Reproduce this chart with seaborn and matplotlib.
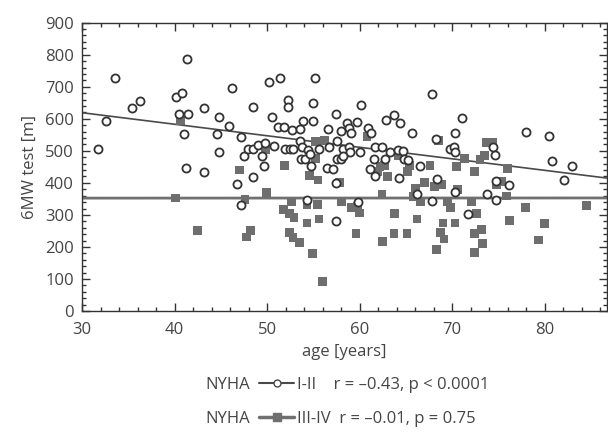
import numpy as np
import pandas as pd
import seaborn as sns
import matplotlib.pyplot as plt
import matplotlib.ticker
from matplotlib.lines import Line2D

# NYHA I-II (open circles)
age_12 = [31.7, 32.6, 33.6, 35.4, 36.3, 40.1, 40.8, 41.3, 40.5, 41.4,
          41.0, 41.2, 43.2, 43.2, 44.8, 44.6, 44.8, 45.9, 46.2, 46.7,
          47.2, 47.2, 47.5, 47.9, 48.5, 48.5, 48.5, 49.0, 49.4, 49.7,
          49.8, 50.2, 51.4, 55.2, 52.2, 52.2, 54.9, 60.1, 50.5, 53.9,
          54.9, 57.4, 51.2, 51.8, 52.7, 53.6, 56.6, 58.6, 59.7, 58.8,
          58.0, 59.1, 57.6, 60.9, 61.2, 62.8, 63.7, 64.4, 65.6, 67.8,
          53.5, 50.7, 51.9, 52.5, 52.8, 53.8, 54.4, 55.6, 56.7, 58.2,
          58.8, 59.0, 60.0, 61.6, 62.4, 63.3, 64.1, 64.7, 53.7, 54.1,
          54.6, 57.5, 58.0, 58.2, 61.5, 62.7, 64.8, 65.2, 66.5, 54.7,
          56.5, 57.1, 61.1, 61.6, 64.3, 71.1, 70.3, 78.0, 80.5, 68.2,
          69.8, 70.2, 70.3, 74.4, 74.6, 80.8, 82.9, 82.1, 68.4, 76.1,
          74.7, 54.3, 57.4, 59.8, 57.4, 66.2, 67.8, 70.3, 73.8, 74.7,
          71.7]
mw_12 = [505, 592, 726, 635, 655, 667, 679, 787, 614, 616,
         552, 445, 635, 435, 606, 552, 496, 576, 696, 398,
         332, 544, 484, 507, 505, 638, 419, 517, 484, 454,
         526, 714, 727, 728, 658, 637, 649, 643, 607, 593,
         593, 614, 575, 575, 565, 567, 567, 588, 591, 572,
         562, 555, 532, 572, 555, 597, 611, 588, 555, 677,
         532, 515, 505, 507, 507, 513, 503, 505, 513, 505,
         513, 497, 497, 512, 513, 497, 503, 500, 475, 475,
         491, 475, 475, 485, 475, 475, 475, 471, 454, 452,
         447, 444, 444, 421, 414, 601, 557, 559, 545, 538,
         507, 513, 496, 513, 487, 468, 454, 408, 411, 393,
         405, 348, 280, 340, 400, 364, 342, 371, 364, 348,
         303]

# NYHA III-IV (filled squares)
age_34 = [40.6, 47.0, 40.1, 47.6, 42.5, 48.2, 47.8, 49.9, 51.9, 52.6,
          51.8, 52.4, 52.9, 52.4, 52.8, 53.5, 49.8, 55.2, 56.2, 60.8,
          55.2, 54.6, 55.5, 57.8, 62.2, 61.9, 62.7, 63.0, 64.2, 65.4,
          65.2, 67.0, 67.6, 66.0, 68.5, 73.7, 74.4, 73.5, 73.0, 71.3,
          70.5, 72.4, 76.0, 68.8, 68.1, 75.3, 74.8, 70.6, 54.3, 55.4,
          55.6, 54.3, 54.9, 56.0, 58.0, 59.1, 59.8, 60.0, 59.6, 62.4,
          63.8, 63.7, 62.5, 65.1, 66.2, 65.8, 66.6, 69.5, 69.8, 72.1,
          72.6, 75.9, 77.9, 84.5, 69.0, 70.3, 68.7, 69.1, 68.3, 72.4,
          73.2, 73.3, 72.4, 76.2, 80.0, 79.3]
mw_34 = [593, 440, 353, 348, 252, 252, 231, 369, 454, 340,
         317, 304, 291, 244, 229, 215, 505, 529, 532, 545,
         475, 423, 409, 400, 450, 436, 454, 421, 485, 454,
         436, 400, 454, 384, 532, 525, 525, 486, 472, 477,
         452, 435, 445, 395, 389, 405, 395, 380, 332, 332,
         287, 275, 179, 92, 340, 322, 327, 306, 243, 364,
         304, 243, 218, 243, 287, 358, 340, 343, 322, 343,
         304, 359, 322, 329, 275, 275, 246, 225, 191, 243,
         255, 212, 183, 283, 273, 222]

group_names = ['I-II', 'III-IV']
stats_text = ['r = \u20130.43, p < 0.0001', 'r = \u20130.01, p = 0.75']

df12 = pd.DataFrame({'age': age_12, 'mw': mw_12})
df34 = pd.DataFrame({'age': age_34, 'mw': mw_34})

sns.set_style('ticks')
plt.rcParams['font.family'] = ['Open Sans', 'DejaVu Sans']
fs = 12
text_col = '#454545'
sq_col = '#6e6e6e'

fig = plt.figure(figsize=(6.08, 4.32), dpi=100)
ax = fig.add_axes([0.135, 0.28, 0.863, 0.6675])
ax.set_xlim(30, 86.7)
ax.set_ylim(0, 900)

sns.regplot(data=df34, x='age', y='mw', scatter=False, ci=None, truncate=False,
            ax=ax, line_kws={'color': '#707070', 'lw': 2.0, 'zorder': 1})
sns.regplot(data=df12, x='age', y='mw', scatter=False, ci=None, truncate=False,
            ax=ax, line_kws={'color': '#4a4a4a', 'lw': 1.2, 'zorder': 1})
sns.scatterplot(data=df34, x='age', y='mw', ax=ax, marker='s', s=40,
                color=sq_col, edgecolor='none', zorder=2)
sns.scatterplot(data=df12, x='age', y='mw', ax=ax, marker='o', s=34,
                facecolor='white', edgecolor='#333333', linewidth=1.3, zorder=3)

ax.set_xticks(range(30, 90, 10))
ax.set_yticks(range(0, 901, 100))
ax.xaxis.set_minor_locator(matplotlib.ticker.MultipleLocator(2))
ax.yaxis.set_minor_locator(matplotlib.ticker.MultipleLocator(20))
ax.tick_params(which='both', direction='in', top=True, right=True,
               colors='#333333', labelcolor=text_col, labelsize=fs, width=1.0)
ax.tick_params(which='major', length=6)
ax.tick_params(which='minor', length=3)
ax.tick_params(axis='x', which='major', pad=8)
ax.tick_params(axis='y', which='major', pad=6)
for sp in ax.spines.values():
    sp.set_color('#333333')
    sp.set_linewidth(1.0)
ax.set_xlabel('age [years]', color=text_col, fontsize=fs, labelpad=4)
ax.set_ylabel('6MW test [m]', color=text_col, fontsize=fs, labelpad=5)

handles = [Line2D([], [], color='#4a4a4a', lw=1.5, marker='o', markersize=5,
                  markerfacecolor='white', markeredgecolor='#4a4a4a'),
           Line2D([], [], color='#707070', lw=2.5, marker='s', markersize=6,
                  markerfacecolor=sq_col, markeredgecolor=sq_col)]
labels = [group_names[0] + '    ' + stats_text[0],
          group_names[1] + '  ' + stats_text[1]]
for i in range(2):
    fig.text(0.337, 0.108 - i * 0.077, 'NYHA', color=text_col,
             fontsize=fs, va='center', ha='left')
leg = fig.legend(handles, labels, loc='center left', bbox_to_anchor=(0.413, 0.07),
                 frameon=False, fontsize=fs, handlelength=2.1, handletextpad=0.15,
                 labelspacing=1.05, borderpad=0)
for t in leg.get_texts():
    t.set_color(text_col)

plt.savefig('out.png', dpi=100)
